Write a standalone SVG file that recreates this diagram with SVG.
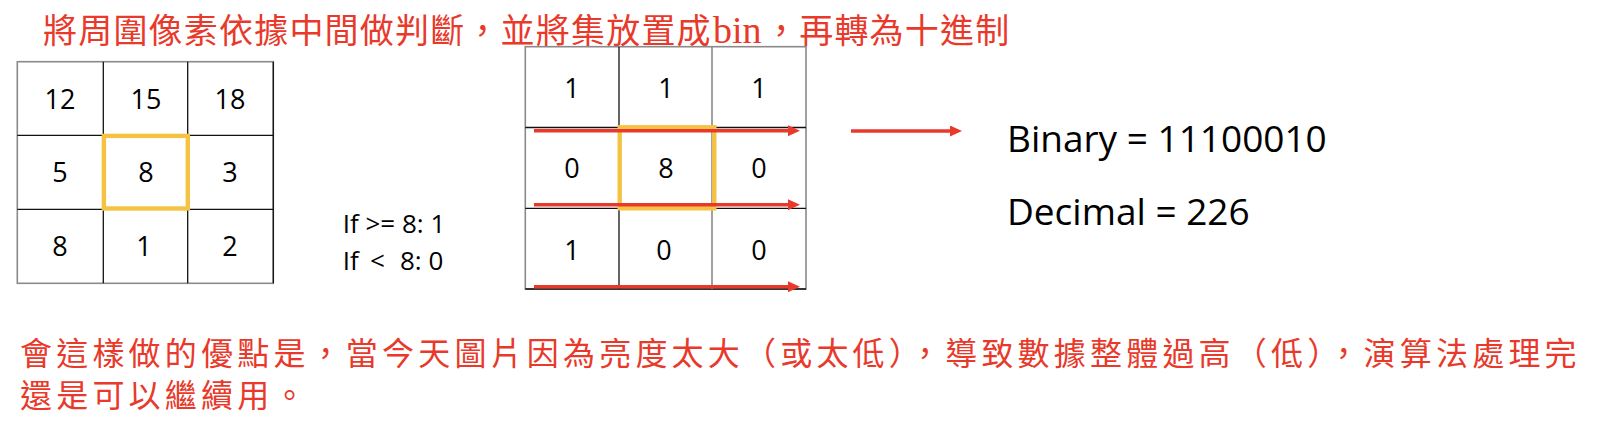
<svg xmlns="http://www.w3.org/2000/svg" width="1600" height="442" viewBox="0 0 1600 442">
  <style>
    .cjk { font-family: "Noto Sans CJK TC", "Noto Sans CJK SC", sans-serif; fill: #E8392B; }
    .num { font-family: "Open Sans", "Liberation Sans", sans-serif; font-size: 27px; fill: #000; text-anchor: middle; }
    .lbl { font-family: "Open Sans", "Liberation Sans", sans-serif; fill: #000; }
    .in { stroke: #111; stroke-width: 1.3; fill: none; }
    .out { stroke: #8a8a8a; stroke-width: 1.6; fill: none; }
    .hl { stroke: #F6C244; stroke-width: 4.4; fill: none; }
    .arr { stroke: #E8392B; stroke-width: 3.4; fill: none; }
  </style>
  <defs>
    <marker id="ah" markerUnits="userSpaceOnUse" viewBox="0 0 12 11" refX="1" refY="5.5" markerWidth="12" markerHeight="11" orient="auto">
      <path d="M0,0 L12,5.5 L0,11 Z" fill="#E8392B"/>
    </marker>
  </defs>
  <rect width="1600" height="442" fill="#fff"/>

  <g id="title">
    <text class="cjk" y="43" font-size="34" letter-spacing="1.2"><tspan x="43">將周圍像素依據中間做判斷，並將集放置成</tspan><tspan x="713" font-family="Liberation Serif, serif" font-size="38" letter-spacing="0">bin</tspan><tspan x="764">，再轉為十進制</tspan></text>
  </g>

  <g id="input-grid">
    <rect class="out" x="17.3" y="61.7" width="256" height="221.6"/>
    <line class="in" x1="273.3" y1="61.7" x2="273.3" y2="283.3"/>
    <line class="in" x1="103.3" y1="61.7" x2="103.3" y2="283.3"/>
    <line class="in" x1="187.7" y1="61.7" x2="187.7" y2="283.3"/>
    <line class="in" x1="17.3" y1="135.3" x2="273.3" y2="135.3"/>
    <line class="in" x1="17.3" y1="209.3" x2="273.3" y2="209.3"/>
    <text class="num" x="60" y="109">12</text>
    <text class="num" x="146" y="109">15</text>
    <text class="num" x="230" y="109">18</text>
    <text class="num" x="60" y="181.7">5</text>
    <text class="num" x="146" y="181.7">8</text>
    <text class="num" x="230" y="181.7">3</text>
    <text class="num" x="60" y="256">8</text>
    <text class="num" x="144" y="256">1</text>
    <text class="num" x="230" y="256">2</text>
    <rect class="hl" x="103.9" y="135.9" width="83.9" height="72.6"/>
  </g>

  <g id="rule">
    <text class="lbl" font-size="26" x="342.7" y="233">If &gt;= 8: 1</text>
    <text class="lbl" font-size="26" y="270"><tspan x="342.7">If</tspan><tspan x="370">&lt;</tspan><tspan x="400">8: 0</tspan></text>
  </g>

  <g id="binary-grid">
    <rect class="out" x="525.3" y="46.7" width="280.7" height="242.3"/>
    <line class="in" x1="525.3" y1="289" x2="806" y2="289"/>
    <line class="in" x1="619" y1="46.7" x2="619" y2="289"/>
    <line class="out" x1="712" y1="46.7" x2="712" y2="289"/>
    <line class="in" x1="525.3" y1="127.5" x2="806" y2="127.5"/>
    <line class="in" x1="525.3" y1="208.3" x2="806" y2="208.3"/>
    <text class="num" x="572" y="98.3">1</text>
    <text class="num" x="666" y="98.3">1</text>
    <text class="num" x="759" y="98.3">1</text>
    <text class="num" x="572" y="178.3">0</text>
    <text class="num" x="666" y="178.3">8</text>
    <text class="num" x="759" y="178.3">0</text>
    <text class="num" x="572" y="260">1</text>
    <text class="num" x="664" y="260">0</text>
    <text class="num" x="759" y="260">0</text>
    <rect class="hl" x="619.7" y="127.3" width="94.6" height="81"/>
  </g>

  <g id="result">
    <text class="lbl" font-size="37" x="1007" y="151.5">Binary = 11100010</text>
    <text class="lbl" font-size="37" x="1007" y="225">Decimal = 226</text>
  </g>

  <g id="note">
    <text class="cjk" font-size="32" letter-spacing="4.2" x="20" y="365">會這樣做的優點是，當今天圖片因為亮度太大（或太低），導致數據整體過高（低），演算法處理完</text>
    <text class="cjk" font-size="32" letter-spacing="4.2" x="20" y="407">還是可以繼續用。</text>
  </g>

  <g id="connectors">
    <line class="arr" x1="534" y1="130.7" x2="789" y2="130.7" marker-end="url(#ah)"/>
    <line class="arr" x1="534" y1="204.7" x2="789" y2="204.7" marker-end="url(#ah)"/>
    <line class="arr" x1="534" y1="286.7" x2="789" y2="286.7" marker-end="url(#ah)"/>
    <line class="arr" x1="851" y1="131" x2="951" y2="131" marker-end="url(#ah)"/>
  </g>
</svg>
